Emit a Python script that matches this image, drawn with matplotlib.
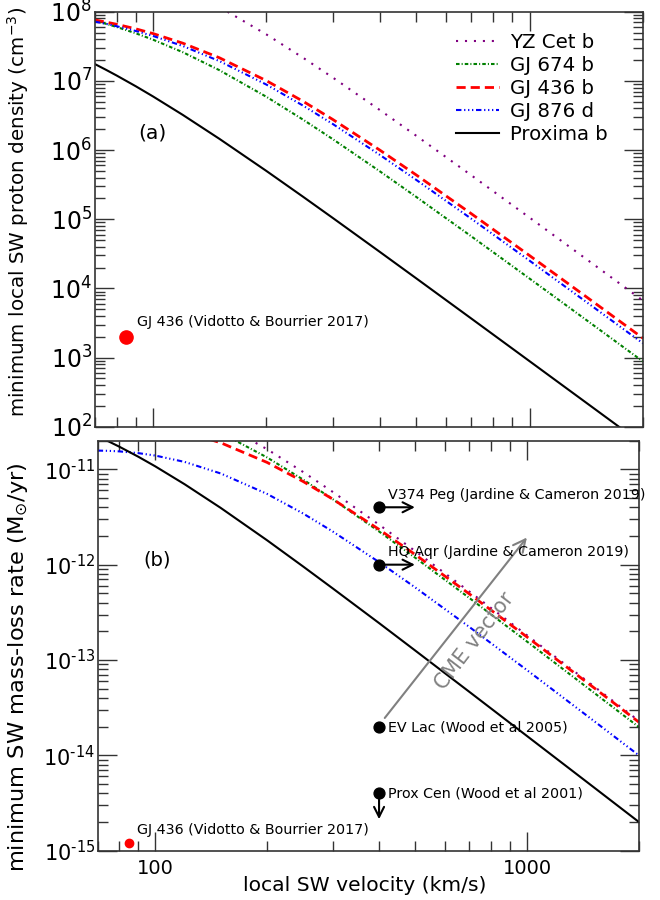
import numpy as np
import matplotlib.pyplot as plt
from matplotlib.ticker import LogLocator, FuncFormatter, NullFormatter

# local SW velocity (km/s)
v = [70, 75, 80, 90, 100, 120, 150, 200, 250, 300, 400, 500, 700, 1000, 1500, 2000]

# minimum proton density (cm^-3)
dens_yzcet = [6.72e8, 6.01e8, 5.37e8, 4.27e8, 3.41e8, 2.18e8, 1.17e8, 4.69e7, 2.165e7, 1.118e7,
              3.79e6, 1.607e6, 4.31e5, 1.051e5, 2.093e4, 6.64e3]
dens_gj674 = [7.40e7, 6.68e7, 6.02e7, 4.87e7, 3.94e7, 2.593e7, 1.428e7, 5.88e6, 2.759e6, 1.438e6,
              4.93e5, 2.098e5, 5.65e4, 1.382e4, 2.756e3, 875]
dens_gj436 = [7.60e7, 7.08e7, 6.58e7, 5.65e7, 4.83e7, 3.502e7, 2.158e7, 1.006e7, 5.08e6, 2.769e6,
              9.98e5, 4.356e5, 1.200e5, 2.972e4, 5.97e3, 1.90e3]
dens_gj876 = [7.19e7, 6.67e7, 6.17e7, 5.26e7, 4.46e7, 3.189e7, 1.932e7, 8.83e6, 4.40e6, 2.382e6,
              8.51e5, 3.698e5, 1.015e5, 2.507e4, 5.03e3, 1.60e3]
dens_prox = [1.755e7, 1.445e7, 1.197e7, 8.35e6, 5.95e6, 3.215e6, 1.453e6, 4.98e5, 2.118e5, 1.043e5,
             3.37e4, 1.394e4, 3.66e3, 883, 175, 55.4]

# minimum mass-loss rate (Msun/yr)
mdot_yzcet = [8.14e-11, 7.80e-11, 7.43e-11, 6.66e-11, 5.89e-11, 4.54e-11, 3.04e-11, 1.624e-11, 9.37e-12,
              5.81e-12, 2.63e-12, 1.391e-12, 5.22e-13, 1.819e-13, 5.44e-14, 2.3e-14]
mdot_gj674 = [5.86e-11, 5.66e-11, 5.44e-11, 4.96e-11, 4.46e-11, 3.52e-11, 2.42e-11, 1.331e-11, 7.80e-12,
              4.88e-12, 2.23e-12, 1.186e-12, 4.47e-13, 1.562e-13, 4.67e-14, 1.98e-14]
mdot_gj436 = [3.12e-11, 3.117e-11, 3.09e-11, 2.987e-11, 2.84e-11, 2.467e-11, 1.90e-11, 1.181e-11, 7.45e-12,
              4.88e-12, 2.344e-12, 1.279e-12, 4.93e-13, 1.745e-13, 5.26e-14, 2.23e-14]
mdot_gj876 = [1.573e-11, 1.563e-11, 1.543e-11, 1.480e-11, 1.395e-11, 1.196e-11, 9.05e-12, 5.52e-12, 3.438e-12,
              2.233e-12, 1.064e-12, 5.78e-13, 2.22e-13, 7.83e-14, 2.357e-14, 1.0e-14]
mdot_prox = [2.22e-11, 1.958e-11, 1.73e-11, 1.357e-11, 1.075e-11, 6.97e-12, 3.94e-12, 1.80e-12, 9.56e-13,
             5.65e-13, 2.44e-13, 1.26e-13, 4.63e-14, 1.595e-14, 4.74e-15, 2.0e-15]

labels = ['YZ Cet b', 'GJ 674 b', 'GJ 436 b', 'GJ 876 d', 'Proxima b']

# GJ 436 estimate (Vidotto & Bourrier 2017)
gj436_v = 85
gj436_dens = 2e3
gj436_mdot = 1.2e-15

# stellar wind observations at 400 km/s
obs_names = ['V374 Peg (Jardine & Cameron 2019)', 'HQ Aqr (Jardine & Cameron 2019)',
             'EV Lac (Wood et al 2005)', 'Prox Cen (Wood et al 2001)']
obs_v = [400, 400, 400, 400]
obs_mdot = [4e-12, 1e-12, 2e-14, 4e-15]

# CME vector end points
cme_v = [410, 1010]
cme_mdot = [2.34e-14, 2.03e-12]

styles = [dict(color='purple', lw=1.5, ls=(0, (1, 3.3))),
          dict(color='green', lw=1.5, ls=(0, (1.7, 1.0, 0.5, 1.0))),
          dict(color='red', lw=2, ls=(0, (3.3, 1.8))),
          dict(color='blue', lw=1.5, ls=(0, (2.6, 1.3, 0.6, 1.3, 0.6, 1.3, 0.6, 1.3))),
          dict(color='black', lw=1.5, ls='-')]


def exp_label(val, pos):
    e = int(round(np.log10(val)))
    if e < 0:
        return r'$10^{\text{-%d}}$' % -e
    return r'$10^{%d}$' % e


def setup(ax, ysize):
    ax.set_xscale('log')
    ax.set_yscale('log')
    ax.set_xlim(70, 2000)
    ax.tick_params(which='both', direction='in', top=True, right=True, color='#333333')
    ax.tick_params(which='major', length=13.5, width=1)
    ax.tick_params(which='minor', length=7, width=1)
    ax.tick_params(axis='y', labelsize=ysize, pad=2)
    ax.tick_params(axis='x', labelsize=14, pad=6)
    ax.yaxis.set_major_locator(LogLocator(base=10, numticks=30))
    ax.yaxis.set_minor_locator(LogLocator(base=10, subs=np.arange(2, 10), numticks=30))
    ax.yaxis.set_major_formatter(FuncFormatter(exp_label))
    ax.yaxis.set_minor_formatter(NullFormatter())
    ax.xaxis.set_minor_formatter(NullFormatter())
    ax.xaxis.set_major_formatter(FuncFormatter(lambda x, p: '%d' % x))
    for s in ax.spines.values():
        s.set_linewidth(1.2)
        s.set_color('#333333')


fig = plt.figure(figsize=(6.6, 9), dpi=100)

# (a) proton density
ax1 = fig.add_axes([0.1435, 0.5259, 0.8308, 0.4611])
setup(ax1, 17)
ax1.set_ylim(1e2, 1e8)
ax1.tick_params(axis='x', labelbottom=False)
for dens, lab, st in zip([dens_yzcet, dens_gj674, dens_gj436, dens_gj876, dens_prox], labels, styles):
    ax1.plot(v, dens, label=lab, **st)
ax1.plot(gj436_v, gj436_dens, 'o', color='red', ms=9.5)
ax1.annotate('GJ 436 (Vidotto & Bourrier 2017)', (gj436_v, gj436_dens), xytext=(7.6, 10.8),
             textcoords='offset points', ha='left', va='center', fontsize=10.3)
ax1.text(0.1045, 0.7077, '(a)', transform=ax1.transAxes, fontsize=14.6, ha='center', va='center')
ax1.legend(loc='upper left', bbox_to_anchor=(0.659, 0.949), frameon=False, fontsize=14.2,
           handlelength=2.2, handletextpad=0.56, labelspacing=0.2, borderpad=0, borderaxespad=0)

# (b) mass-loss rate
ax2 = fig.add_axes([0.148, 0.0548, 0.820, 0.4556])
setup(ax2, 15)
ax2.set_ylim(1e-15, 2e-11)
for mdot, st in zip([mdot_yzcet, mdot_gj674, mdot_gj436, mdot_gj876, mdot_prox], styles):
    ax2.plot(v, mdot, **st)
ax2.plot(gj436_v, gj436_mdot, 'o', color='red', ms=6)
ax2.annotate('GJ 436 (Vidotto & Bourrier 2017)', (gj436_v, gj436_mdot), xytext=(6, 9.1),
             textcoords='offset points', ha='left', va='center', fontsize=10.3)

ax2.annotate('', xy=(cme_v[1], cme_mdot[1]), xytext=(cme_v[0], cme_mdot[0]),
             arrowprops=dict(arrowstyle='->', color='gray', lw=1.5, mutation_scale=22))
ax2.text(722, 1.58e-13, 'CME vector', rotation=52.6, color='gray', fontsize=14.8,
         ha='center', va='center', rotation_mode='anchor')

for i in range(len(obs_names)):
    ax2.plot(obs_v[i], obs_mdot[i], 'o', color='black', ms=7.8)
    if i < 2:
        ax2.annotate('', xy=(obs_v[i] * 1.27, obs_mdot[i]), xytext=(obs_v[i], obs_mdot[i]),
                     arrowprops=dict(arrowstyle='->', color='black', lw=1.5, mutation_scale=18))
        ax2.annotate(obs_names[i], (obs_v[i], obs_mdot[i]), xytext=(6.5, 9.1),
                     textcoords='offset points', ha='left', va='center', fontsize=10.3)
    else:
        ax2.annotate(obs_names[i], (obs_v[i], obs_mdot[i]), xytext=(6.5, -0.5),
                     textcoords='offset points', ha='left', va='center', fontsize=10.3)
ax2.annotate('', xy=(obs_v[3], obs_mdot[3] / 2), xytext=(obs_v[3], obs_mdot[3]),
             arrowprops=dict(arrowstyle='->', color='black', lw=1.5, mutation_scale=18))
ax2.text(0.109, 0.709, '(b)', transform=ax2.transAxes, fontsize=14, ha='center', va='center')

fig.text(0.027, 0.764, r'minimum local SW proton density (cm$^{-3}$)', rotation=90,
         ha='center', va='center', fontsize=14.3)
fig.text(0.027, 0.259, r'minimum SW mass-loss rate (M$_{\odot}$/yr)', rotation=90,
         ha='center', va='center', fontsize=16.2)
fig.text(0.553, 0.0156, 'local SW velocity (km/s)', ha='center', va='center', fontsize=14.6)

fig.savefig('out.png', dpi=100, facecolor='white')
